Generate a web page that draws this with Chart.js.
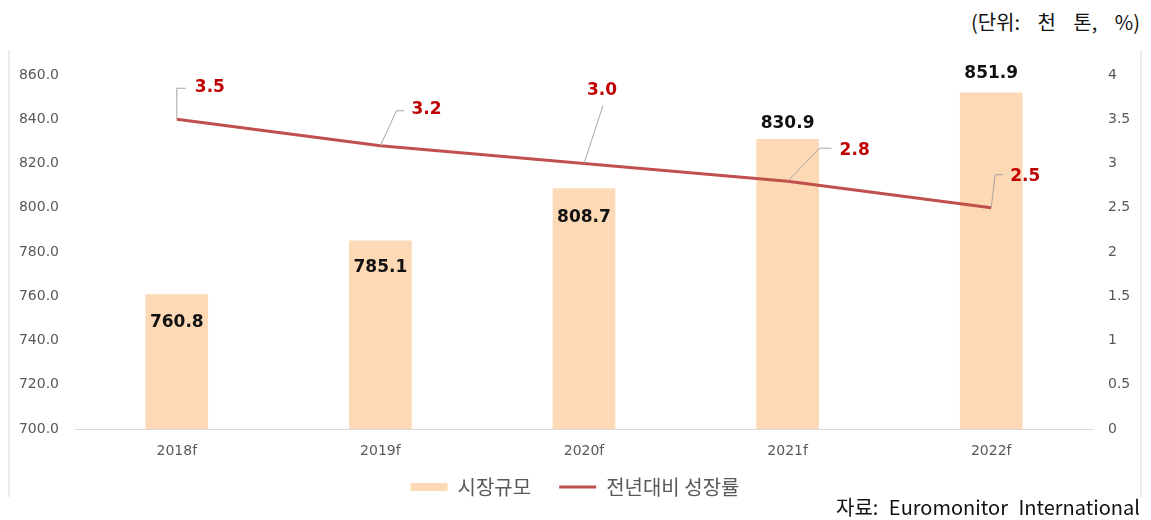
<!DOCTYPE html>
<html>
<head>
<meta charset="utf-8">
<script src="https://cdn.jsdelivr.net/npm/chart.js@4.4.0/dist/chart.umd.min.js"></script>
<style>
  body { margin: 0; background: #fff; width: 1151px; height: 520px; position: relative; overflow: hidden; }
  #unit { position: absolute; right: 11px; top: 7px; font: 20px "Noto Sans CJK KR", sans-serif; color: #111; word-spacing: 13px; }
  #source { position: absolute; right: 11px; top: 492px; font: 20px "Noto Sans CJK KR", sans-serif; color: #111; word-spacing: 6px; }
  #frame { position: absolute; left: 8px; top: 50px; width: 1134px; height: 447px;
           border-left: 2px solid #ececec; border-right: 2px solid #ececec; box-sizing: border-box; }
  #frame canvas { position: absolute; left: 0; top: 0; }
</style>
</head>
<body>
<div id="unit">(단위: 천 톤, %)</div>
<div id="frame"><canvas id="myChart" width="1130" height="469"></canvas></div>
<div id="source">자료: Euromonitor International</div>
<script>
// chart values
const years = ['2018f', '2019f', '2020f', '2021f', '2022f'];
const marketSize = [760.8, 785.1, 808.7, 830.9, 851.9];
const growthRate = [3.5, 3.2, 3.0, 2.8, 2.5];

// label placement (bar labels: px from bar top, growth labels: leader line elbows)
const barLabelShift = [28, 27, 29, -16, -19];
const growthLeaders = [
    { elbow: [0, -31], end: [9, -31], text: [18, -32] },
    { elbow: [16, -35], end: [24, -35], text: [31, -36] },
    { elbow: [19, -58], end: [19, -58], text: [18, -73] },
    { elbow: [32, -33], end: [44, -33], text: [52, -31] },
    { elbow: [4, -33], end: [12, -33], text: [19, -31] }
];

const labelPlugin = {
    id: 'labelPlugin',
    afterLayout(chart) {
        // pull the legend up closer to the axis labels
        if (chart.legend) {
            chart.legend.top -= 12;
            chart.legend.bottom -= 12;
        }
    },
    afterDatasetsDraw(chart) {
        const ctx = chart.ctx;
        ctx.save();
        // bar value labels
        const barMeta = chart.getDatasetMeta(1);
        ctx.font = 'bold 17px "DejaVu Sans", Verdana, sans-serif';
        ctx.fillStyle = '#111';
        ctx.textAlign = 'center';
        ctx.textBaseline = 'middle';
        barMeta.data.forEach((bar, i) => {
            ctx.fillText(marketSize[i].toFixed(1), bar.x, bar.y + barLabelShift[i]);
        });
        // growth labels with leader lines
        const lineMeta = chart.getDatasetMeta(0);
        lineMeta.data.forEach((pt, i) => {
            const l = growthLeaders[i];
            ctx.strokeStyle = '#a6a6a6';
            ctx.lineWidth = 1;
            ctx.beginPath();
            ctx.moveTo(pt.x, pt.y);
            ctx.lineTo(pt.x + l.elbow[0], pt.y + l.elbow[1]);
            ctx.lineTo(pt.x + l.end[0], pt.y + l.end[1]);
            ctx.stroke();
            ctx.fillStyle = '#c00000';
            ctx.textAlign = i === 2 ? 'center' : 'left';
            ctx.fillText(growthRate[i].toFixed(1), pt.x + l.text[0], pt.y + l.text[1]);
        });
        ctx.restore();
    }
};

const tickFont = { family: '"DejaVu Sans", Verdana, sans-serif', size: 14 };

const myChart = new Chart(document.getElementById('myChart'), {
    data: {
        labels: years,
        datasets: [{
            type: 'line',
            label: '전년대비 성장률',
            data: growthRate,
            yAxisID: 'y1',
            borderColor: '#c0504d',
            backgroundColor: '#c0504d',
            borderWidth: 3,
            pointRadius: 0,
            pointStyle: 'line',
            order: 0
        }, {
            type: 'bar',
            label: '시장규모',
            data: marketSize,
            yAxisID: 'y',
            backgroundColor: '#fdd9b5',
            borderWidth: 0,
            barThickness: 62,
            pointStyle: 'rect',
            order: 1
        }]
    },
    options: {
        responsive: false,
        animation: false,
        layout: { padding: { top: 25, left: 0, right: 0, bottom: 0 } },
        plugins: {
            tooltip: { enabled: false },
            legend: {
                position: 'bottom',
                reverse: true,
                labels: {
                    usePointStyle: true,
                    pointStyleWidth: 37,
                    boxHeight: 8,
                    padding: 28,
                    color: '#595959',
                    font: { family: '"Noto Sans CJK KR", sans-serif', size: 20 }
                }
            }
        },
        scales: {
            x: {
                grid: { display: false },
                border: { color: '#d9d9d9' },
                ticks: { color: '#595959', font: tickFont, padding: 6 },
                afterFit: s => { s.height = 32; }
            },
            y: {
                position: 'left',
                min: 700, max: 860,
                grid: { display: false },
                border: { display: false },
                ticks: { stepSize: 20, color: '#595959', font: tickFont, padding: 8,
                         callback: v => v.toFixed(1) },
                afterFit: s => { s.width = 65; }
            },
            y1: {
                position: 'right',
                min: 0, max: 4,
                grid: { display: false },
                border: { display: false },
                ticks: { stepSize: 0.5, color: '#595959', font: tickFont, padding: 7,
                         callback: v => String(v) },
                afterFit: s => { s.width = 47; }
            }
        }
    },
    plugins: [labelPlugin]
});
</script>
</body>
</html>
